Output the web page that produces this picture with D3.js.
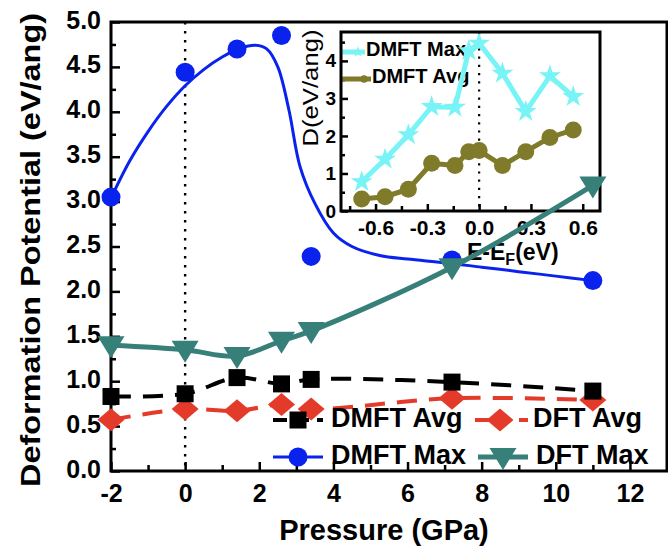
<!DOCTYPE html>
<html>
<head>
<meta charset="utf-8">
<script src="https://cdn.jsdelivr.net/npm/d3@7"></script>
<style>
  html, body { margin: 0; padding: 0; background: #fff; }
  svg { display: block; font-family: "Liberation Sans", Arial, Helvetica, sans-serif; }
</style>
</head>
<body>
<svg id="chart" width="668" height="547"></svg>
<script>
// ---- Main panel: deformation potential vs pressure ----
const pressure = [-2, 0, 1.4, 2.6, 3.4, 7.2, 11];
const dmftAvg  = [0.83, 0.86, 1.04, 0.97, 1.02, 0.99, 0.89];
const dftAvg   = [0.57, 0.69, 0.67, 0.74, 0.69, 0.81, 0.79];
const dmftMax  = [3.05, 4.44, 4.70, 4.85, 2.39, 2.35, 2.12];
const dftMax   = [1.40, 1.35, 1.28, 1.45, 1.56, 2.27, 3.18];

// smooth guide curve drawn for the DMFT Max series
const fitPressure = [-2, -1.5, -1, -0.5, 0, 0.5, 1, 1.5, 1.9, 2.2, 2.5, 2.8, 3.1, 3.5, 4, 4.5, 5.25, 6, 7, 8, 9, 10, 11];
const fitDmftMax  = [3.04, 3.45, 3.78, 4.06, 4.29, 4.47, 4.61, 4.71, 4.74, 4.70, 4.50, 4.02, 3.39, 2.98, 2.65, 2.50, 2.40, 2.36, 2.32, 2.27, 2.22, 2.17, 2.12];

const xTicks = [-2, 0, 2, 4, 6, 8, 10, 12];
const xMinorTicks = [-1, 1, 3, 5, 7, 9, 11];
const yTicks = [0, 0.5, 1, 1.5, 2, 2.5, 3, 3.5, 4, 4.5, 5];
const yMinorTicks = [0.25, 0.75, 1.25, 1.75, 2.25, 2.75, 3.25, 3.75, 4.25, 4.75];

// ---- Inset: deformation potential vs energy ----
const energy   = [-0.68, -0.545, -0.41, -0.275, -0.14, -0.06, 0, 0.135, 0.27, 0.41, 0.545];
const insetMax = [0.78, 1.38, 2.03, 2.78, 2.76, 4.27, 4.47, 3.67, 2.65, 3.60, 3.05];
const insetAvg = [0.32, 0.38, 0.58, 1.27, 1.21, 1.58, 1.61, 1.21, 1.58, 1.96, 2.16];

const insetXTicks = [-0.6, -0.3, 0, 0.3, 0.6];
const insetXMinorTicks = [-0.75, -0.45, -0.15, 0.15, 0.45];
const insetYTicks = [0, 1, 2, 3, 4];
const insetYMinorTicks = [0.5, 1.5, 2.5, 3.5, 4.5];

const colors = {
  dmftAvg: "#000000",
  dftAvg: "#e43a2a",
  dmftMax: "#0a22ee",
  dftMax: "#377f79",
  insetMax: "#78f3f6",
  insetAvg: "#807a2b"
};

const svg = d3.select("#chart");

// soft grey haze in the lower-left corner
const defs = svg.append("defs");
const haze = defs.append("radialGradient").attr("id", "haze")
  .attr("cx", 0).attr("cy", 0.78).attr("r", 0.5)
  .attr("gradientTransform", "translate(0,0) scale(1,1)");
haze.append("stop").attr("offset", "0%").attr("stop-color", "#dcdcdc");
haze.append("stop").attr("offset", "60%").attr("stop-color", "#ececec");
haze.append("stop").attr("offset", "100%").attr("stop-color", "#ffffff");
svg.append("ellipse").attr("cx", 0).attr("cy", 430).attr("rx", 70).attr("ry", 190)
  .attr("fill", "url(#haze)");

// scales
const x = d3.scaleLinear([-2, 13], [111, 667]);
const y = d3.scaleLinear([0, 5], [471, 22]);

// custom marker shapes
const squareShape = { draw(ctx) { const h = 8.5; ctx.moveTo(-h, -h); ctx.lineTo(h, -h); ctx.lineTo(h, h); ctx.lineTo(-h, h); ctx.closePath(); } };
const diamondShape = { draw(ctx) { ctx.moveTo(0, -11.5); ctx.lineTo(13.5, 0); ctx.lineTo(0, 11.5); ctx.lineTo(-13.5, 0); ctx.closePath(); } };
const triDownShape = { draw(ctx) { ctx.moveTo(-13.5, -9); ctx.lineTo(13.5, -9); ctx.lineTo(0, 13); ctx.closePath(); } };
const circleShape = { draw(ctx) { ctx.moveTo(9.5, 0); ctx.arc(0, 0, 9.5, 0, 2 * Math.PI); } };

// zero-pressure guide
svg.append("line")
  .attr("x1", x(0)).attr("x2", x(0)).attr("y1", y(5)).attr("y2", y(0))
  .attr("stroke", "#000").attr("stroke-width", 2.4).attr("stroke-dasharray", "2.4,6.6");

// axes
function styleAxis(g, size) {
  g.select(".domain").remove();
  g.selectAll("line").attr("stroke", "#000").attr("stroke-width", 2.5);
  g.selectAll("text").attr("fill", "#000").attr("font-size", size).attr("font-weight", "bold")
    .attr("font-family", '"Liberation Sans", Arial, sans-serif');
}
svg.append("g").attr("transform", `translate(0,${y(0)})`)
  .call(d3.axisBottom(x).tickValues(xTicks).tickSizeInner(-9).tickSizeOuter(0).tickPadding(13).tickFormat(d => String(d)))
  .call(g => styleAxis(g, 25));
svg.append("g").attr("transform", `translate(0,${y(0)})`)
  .call(d3.axisBottom(x).tickValues(xMinorTicks).tickSizeInner(-6).tickSizeOuter(0).tickFormat(""))
  .call(g => styleAxis(g, 25));
svg.append("g").attr("transform", `translate(${x(-2)},0)`)
  .call(d3.axisLeft(y).tickValues(yTicks).tickSizeInner(-9).tickSizeOuter(0).tickPadding(10).tickFormat(d3.format(".1f")))
  .call(g => styleAxis(g, 25))
  .call(g => g.selectAll("text").attr("y", -3).attr("dy", "0.36em"));
svg.append("g").attr("transform", `translate(${x(-2)},0)`)
  .call(d3.axisLeft(y).tickValues(yMinorTicks).tickSizeInner(-5).tickSizeOuter(0).tickFormat(""))
  .call(g => styleAxis(g, 25));

// frame
svg.append("rect")
  .attr("x", x(-2)).attr("y", y(5)).attr("width", x(13) - x(-2)).attr("height", y(0) - y(5))
  .attr("fill", "none").attr("stroke", "#000").attr("stroke-width", 3);

// axis titles
svg.append("text")
  .attr("x", (x(-2) + x(13)) / 2 - 5).attr("y", 540)
  .attr("text-anchor", "middle").attr("font-size", 29).attr("font-weight", "bold")
  .text("Pressure (GPa)");
svg.append("text")
  .attr("transform", "translate(40,250) rotate(-90)")
  .attr("text-anchor", "middle").attr("font-size", 27).attr("font-weight", "bold")
  .attr("textLength", 474).attr("lengthAdjust", "spacingAndGlyphs")
  .text("Deformation Potential (eV/ang)");

// ---- inset panel ----
const ix = d3.scaleLinear([-0.8, 0.7], [341, 600]);
const iy = d3.scaleLinear([0, 4.77], [211, 32]);
const inset = svg.append("g");

inset.append("rect")
  .attr("x", ix(-0.8)).attr("y", iy(4.77)).attr("width", ix(0.7) - ix(-0.8)).attr("height", iy(0) - iy(4.77))
  .attr("fill", "#fff");

inset.append("line")
  .attr("x1", ix(0)).attr("x2", ix(0)).attr("y1", iy(4.77)).attr("y2", iy(0))
  .attr("stroke", "#000").attr("stroke-width", 2.2).attr("stroke-dasharray", "2.2,6");

inset.append("g").attr("transform", `translate(0,${iy(0)})`)
  .call(d3.axisBottom(ix).tickValues(insetXTicks).tickSizeInner(-7).tickSizeOuter(0).tickPadding(9).tickFormat(d => d.toFixed(1)))
  .call(g => styleAxis(g, 21));
inset.append("g").attr("transform", `translate(0,${iy(0)})`)
  .call(d3.axisBottom(ix).tickValues(insetXMinorTicks).tickSizeInner(-5).tickSizeOuter(0).tickFormat(""))
  .call(g => styleAxis(g, 21));
inset.append("g").attr("transform", `translate(${ix(-0.8)},0)`)
  .call(d3.axisLeft(iy).tickValues(insetYTicks).tickSizeInner(-7).tickSizeOuter(0).tickPadding(5).tickFormat(d3.format("d")))
  .call(g => styleAxis(g, 19));
inset.append("g").attr("transform", `translate(${ix(-0.8)},0)`)
  .call(d3.axisLeft(iy).tickValues(insetYMinorTicks).tickSizeInner(-4).tickSizeOuter(0).tickFormat(""))
  .call(g => styleAxis(g, 19));

inset.append("text")
  .attr("transform", "translate(318,88) rotate(-90)")
  .attr("text-anchor", "middle").attr("font-size", 22)
  .attr("textLength", 117).attr("lengthAdjust", "spacingAndGlyphs")
  .text("D(eV/ang)");

const eLabel = inset.append("text")
  .attr("x", 467).attr("y", 260).attr("font-size", 23).attr("font-weight", "bold");
eLabel.append("tspan").text("E-E");
eLabel.append("tspan").attr("font-size", 16).attr("dy", 5).text("F");
eLabel.append("tspan").attr("dy", -5).text("(eV)");

// inset legend
const insetLegend = [
  { label: "DMFT Max", color: colors.insetMax, yPos: 52, textY: 56, textX: 366, shape: d3.symbolStar, size: 40 },
  { label: "DMFT Avg", color: colors.insetAvg, yPos: 79, textY: 83, textX: 372, shape: d3.symbolCircle, size: 45 }
];
insetLegend.forEach(d => {
  inset.append("text").attr("x", d.textX).attr("y", d.textY)
    .attr("font-size", 20).attr("font-weight", "bold").text(d.label);
  inset.append("line").attr("x1", ix(-0.8)).attr("x2", d.textX - 1).attr("y1", d.yPos).attr("y2", d.yPos)
    .attr("stroke", d.color).attr("stroke-width", 5);
  inset.append("path").attr("d", d3.symbol(d.shape, d.size)())
    .attr("transform", `translate(${d.textX - 8},${d.yPos})`).attr("fill", d.color);
});

const insetLine = d3.line().x(d => ix(d[0])).y(d => iy(d[1]));
inset.append("path").datum(d3.zip(energy, insetAvg)).attr("d", insetLine)
  .attr("fill", "none").attr("stroke", colors.insetAvg).attr("stroke-width", 5);
inset.selectAll(".iavg").data(d3.zip(energy, insetAvg)).join("circle").attr("class", "iavg")
  .attr("cx", d => ix(d[0])).attr("cy", d => iy(d[1])).attr("r", 8.5).attr("fill", colors.insetAvg);
inset.append("path").datum(d3.zip(energy, insetMax)).attr("d", insetLine)
  .attr("fill", "none").attr("stroke", colors.insetMax).attr("stroke-width", 5);
inset.selectAll(".imax").data(d3.zip(energy, insetMax)).join("path").attr("class", "imax")
  .attr("d", d3.symbol(d3.symbolStar, 150)())
  .attr("transform", d => `translate(${ix(d[0])},${iy(d[1])})`).attr("fill", colors.insetMax);

inset.append("rect")
  .attr("x", ix(-0.8)).attr("y", iy(4.77)).attr("width", ix(0.7) - ix(-0.8)).attr("height", iy(0) - iy(4.77))
  .attr("fill", "none").attr("stroke", "#000").attr("stroke-width", 3);

// ---- main series ----
const smooth = d3.line().x(d => x(d[0])).y(d => y(d[1])).curve(d3.curveCatmullRom.alpha(0.5));

svg.append("path").datum(d3.zip(fitPressure, fitDmftMax)).attr("d", smooth)
  .attr("fill", "none").attr("stroke", colors.dmftMax).attr("stroke-width", 3);
svg.append("path").datum(d3.zip(pressure, dftMax)).attr("d", smooth)
  .attr("fill", "none").attr("stroke", colors.dftMax).attr("stroke-width", 5);
svg.append("path").datum(d3.zip(pressure, dftAvg)).attr("d", smooth)
  .attr("fill", "none").attr("stroke", colors.dftAvg).attr("stroke-width", 4).attr("stroke-dasharray", "20,12");
svg.append("path").datum(d3.zip(pressure, dmftAvg)).attr("d", smooth)
  .attr("fill", "none").attr("stroke", colors.dmftAvg).attr("stroke-width", 4).attr("stroke-dasharray", "20,12");

function markers(values, shape, color, cls) {
  svg.selectAll("." + cls).data(d3.zip(pressure, values)).join("path").attr("class", cls)
    .attr("d", d3.symbol(shape)())
    .attr("transform", d => `translate(${x(d[0])},${y(d[1])})`)
    .attr("fill", color);
}
markers(dmftMax, circleShape, colors.dmftMax, "m-dmftmax");
markers(dftMax, triDownShape, colors.dftMax, "m-dftmax");
markers(dftAvg, diamondShape, colors.dftAvg, "m-dftavg");
markers(dmftAvg, squareShape, colors.dmftAvg, "m-dmftavg");

// ---- legend ----
const legendItems = [
  { label: "DMFT Avg", color: colors.dmftAvg, shape: squareShape, dash: "14,8", sx: 273, ex: 323, mx: 298, yPos: 420, tx: 331, ty: 427 },
  { label: "DFT Avg", color: colors.dftAvg, shape: diamondShape, dash: "14,8", sx: 475, ex: 528, mx: 500, yPos: 420, tx: 533, ty: 427 },
  { label: "DMFT Max", color: colors.dmftMax, shape: circleShape, dash: null, sx: 273, ex: 323, mx: 298, yPos: 457, tx: 331, ty: 464 },
  { label: "DFT Max", color: colors.dftMax, shape: triDownShape, dash: null, sx: 478, ex: 528, mx: 503, yPos: 457, tx: 536, ty: 464 }
];
const legend = svg.append("g");
legendItems.forEach(d => {
  legend.append("line").attr("x1", d.sx).attr("x2", d.ex).attr("y1", d.yPos).attr("y2", d.yPos)
    .attr("stroke", d.color).attr("stroke-width", d.dash ? 4 : (d.label === "DFT Max" ? 5 : 3))
    .attr("stroke-dasharray", d.dash);
  legend.append("path").attr("d", d3.symbol(d.shape)())
    .attr("transform", `translate(${d.mx},${d.yPos})`).attr("fill", d.color);
  legend.append("text").attr("x", d.tx).attr("y", d.ty)
    .attr("font-size", 27).attr("font-weight", "bold").text(d.label);
});
</script>
</body>
</html>
